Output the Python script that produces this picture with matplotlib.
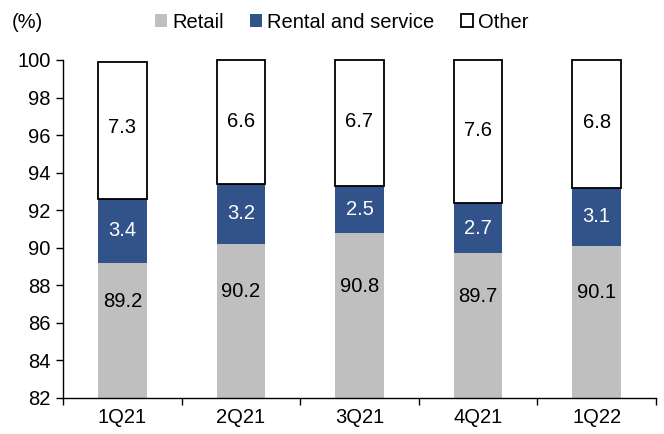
import matplotlib.pyplot as plt
import numpy as np

plt.rcParams['font.family'] = ['Liberation Sans', 'DejaVu Sans']

quarters = ['1Q21', '2Q21', '3Q21', '4Q21', '1Q22']
retail = [89.2, 90.2, 90.8, 89.7, 90.1]
rental = [3.4, 3.2, 2.5, 2.7, 3.1]
other = [7.3, 6.6, 6.7, 7.6, 6.8]

fs = 14.5
fig = plt.figure(figsize=(6.64, 4.34), dpi=100)
ax = fig.add_axes([63/664, 36/434, 593/664, 338/434])

x = np.arange(len(quarters))
w = 0.41
r = np.array(retail)
rn = np.array(rental)
o = np.array(other)

ax.bar(x, r, w, color='#BFBFBF', label='Retail')
ax.bar(x, rn, w, bottom=r, color='#31538A', label='Rental and service')
ax.bar(x, o, w, bottom=r + rn, color='white', edgecolor='black', linewidth=1.3,
       label='Other', clip_on=False)

ymin, ymax = 82, 100
for i in range(len(x)):
    ax.text(x[i], (ymin + r[i]) / 2 + 1.55, f'{r[i]:.1f}', ha='center', va='center', fontsize=fs)
    ax.text(x[i], r[i] + rn[i] / 2, f'{rn[i]:.1f}', ha='center', va='center', fontsize=fs, color='white')
    ax.text(x[i], 100 - o[i] / 2 + 0.05, f'{o[i]:.1f}', ha='center', va='center', fontsize=fs)

ax.set_ylim(ymin, ymax)
ax.set_xlim(-0.5, len(x) - 0.5)
ax.set_yticks(np.arange(82, 101, 2))
ax.set_xticks(x)
ax.set_xticklabels(quarters)
ax.set_xticks(np.arange(-0.5, len(x), 1), minor=True)
ax.tick_params(axis='x', which='major', length=0, pad=7, labelsize=fs)
ax.tick_params(axis='x', which='minor', length=5, direction='out', width=1)
ax.tick_params(axis='y', length=5, direction='out', width=1, labelsize=fs, pad=4)
for s in ['top', 'right']:
    ax.spines[s].set_visible(False)
ax.spines['left'].set_linewidth(1)
ax.spines['bottom'].set_linewidth(1)

fig.text(12/664, 1 - 22/434, '(%)', fontsize=fs, va='center')
fig.legend(loc='center', bbox_to_anchor=(0.515, 1 - 22/434), ncol=3, frameon=False,
           fontsize=fs, handlelength=0.6, handleheight=0.6, handletextpad=0.25, columnspacing=1.3)

fig.savefig('out.png', dpi=100)
